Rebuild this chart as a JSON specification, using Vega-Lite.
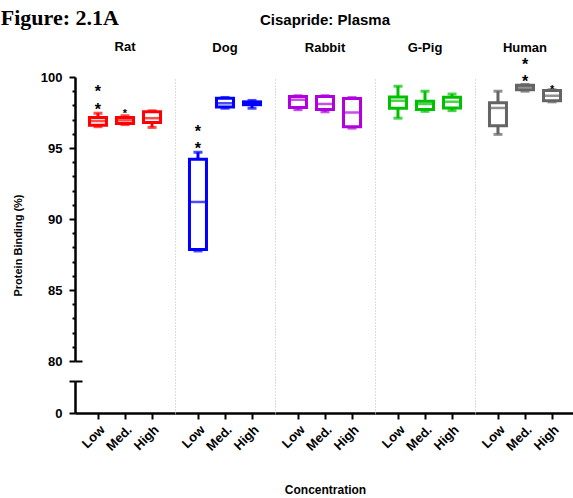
{
  "$schema": "https://vega.github.io/schema/vega-lite/v6.json",
  "background": "white",
  "padding": {"left": 0, "right": 0, "top": 6, "bottom": 0},
  "title": {"text": "Figure: 2.1A", "anchor": "start", "frame": "bounds", "font": "Liberation Serif", "fontSize": 22, "fontWeight": "bold", "color": "black", "dx": -12, "offset": -18},
  "datasets": {
    "boxes": [
      {"species": "Rat", "conc": "Low", "min": 96.5, "q1": 96.6, "median": 96.9, "q3": 97.15, "max": 97.45},
      {"species": "Rat", "conc": "Med.", "min": 96.65, "q1": 96.72, "median": 96.95, "q3": 97.15, "max": 97.27},
      {"species": "Rat", "conc": "High", "min": 96.45, "q1": 96.8, "median": 97.1, "q3": 97.55, "max": 97.62},
      {"species": "Dog", "conc": "Low", "min": 87.75, "q1": 87.85, "median": 91.2, "q3": 94.2, "max": 94.7},
      {"species": "Dog", "conc": "Med.", "min": 97.8, "q1": 97.88, "median": 98.15, "q3": 98.5, "max": 98.56},
      {"species": "Dog", "conc": "High", "min": 97.8, "q1": 98.05, "median": 98.15, "q3": 98.25, "max": 98.35},
      {"species": "Rabbit", "conc": "Low", "min": 97.7, "q1": 97.85, "median": 98.4, "q3": 98.62, "max": 98.68},
      {"species": "Rabbit", "conc": "Med.", "min": 97.55, "q1": 97.72, "median": 98.1, "q3": 98.62, "max": 98.68},
      {"species": "Rabbit", "conc": "High", "min": 96.4, "q1": 96.5, "median": 97.5, "q3": 98.48, "max": 98.55},
      {"species": "G-Pig", "conc": "Low", "min": 97.1, "q1": 97.8, "median": 98.33, "q3": 98.6, "max": 99.35},
      {"species": "G-Pig", "conc": "Med.", "min": 97.58, "q1": 97.72, "median": 98.1, "q3": 98.3, "max": 99.0},
      {"species": "G-Pig", "conc": "High", "min": 97.63, "q1": 97.82, "median": 98.26, "q3": 98.58, "max": 98.8},
      {"species": "Human", "conc": "Low", "min": 95.96, "q1": 96.56, "median": 97.82, "q3": 98.18, "max": 99.0},
      {"species": "Human", "conc": "Med.", "min": 99.0, "q1": 99.1, "median": 99.3, "q3": 99.42, "max": 99.48},
      {"species": "Human", "conc": "High", "min": 98.25, "q1": 98.32, "median": 98.68, "q3": 99.05, "max": 99.1}
    ],
    "stars2": [
      {"species": "Rat", "conc": "Low", "y": 99.2},
      {"species": "Dog", "conc": "Low", "y": 96.4},
      {"species": "Human", "conc": "Med.", "y": 101.1}
    ],
    "stars1": [
      {"species": "Rat", "conc": "Med.", "y": 97.6},
      {"species": "Human", "conc": "High", "y": 99.27}
    ]
  },
  "spacing": 0,
  "bounds": "flush",
  "hconcat": [
    {
      "width": 100, "height": 336,
      "title": {"text": " ", "subtitle": "Rat", "fontSize": 15, "font": "Liberation Sans", "fontWeight": "bold", "color": "black", "subtitleFont": "Liberation Sans", "subtitleFontSize": 13, "subtitleFontWeight": "bold", "subtitleColor": "black", "subtitlePadding": 14, "offset": 17.5},
      "layer": [
        {"data": {"name": "boxes"}, "transform": [{"filter": "datum.species === 'Rat'"}], "mark": {"type": "rule", "strokeWidth": 3},
         "encoding": {
           "x": {"field": "conc", "type": "nominal", "scale": {"type": "point", "domain": ["Low", "Med.", "High"], "padding": 0.85}, "axis": {"title": null, "labelAngle": -45, "labelFont": "Liberation Sans", "labelFontSize": 13, "labelFontWeight": "bold", "labelColor": "black", "labelPadding": 4, "tickSize": 6, "tickWidth": 2, "tickColor": "black", "domainColor": "black", "domainWidth": 2.5, "grid": false}},
           "y": {"field": "min", "type": "quantitative", "scale": {"domain": [0, 2.25, 80, 100], "range": [336, 304, 284, 0], "nice": false, "zero": false},
                 "axis": {"title": "Protein Binding (%)", "titleFont": "Liberation Sans", "titleFontSize": 11, "titleFontWeight": "bold", "titleColor": "black", "titlePadding": 16.5,
                          "values": [0, 2.25, 80, 81, 82, 83, 84, 85, 86, 87, 88, 89, 90, 91, 92, 93, 94, 95, 96, 97, 98, 99, 100],
                          "tickCount": 60,
                          "format": "d", "labelOverlap": false, "labelFlush": false,
                          "labelExpr": "(datum.value == 0 || (datum.value >= 80 && datum.value % 5 == 0)) ? datum.label : ''",
                          "labelFont": "Liberation Sans", "labelFontSize": 13, "labelFontWeight": "bold", "labelColor": "black", "labelPadding": 7,
                          "tickSize": {"condition": {"test": "datum.value % 5 == 0 || datum.value == 2.25", "value": 6}, "value": 3},
                          "tickWidth": 2, "tickColor": "black",
                          "domainColor": "black", "domainWidth": 2.5, "domainDash": [32, 20, 284],
                          "grid": true, "gridColor": "black", "gridWidth": 2, "gridDash": [7, 2000],
                          "gridOpacity": {"condition": {"test": "datum.value == 80 || datum.value == 2.25", "value": 1}, "value": 0}}},
           "y2": {"field": "max"},
           "color": {"field": "species", "type": "nominal", "scale": {"domain": ["Rat", "Dog", "Rabbit", "G-Pig", "Human"], "range": ["#ff0000", "#0000ff", "#b000e0", "#00c000", "#646464"]}, "legend": null}
         }},
        {"data": {"name": "boxes"}, "transform": [{"filter": "datum.species === 'Rat'"}], "mark": {"type": "bar", "width": 17, "fill": "white", "strokeWidth": 3},
         "encoding": {"x": {"field": "conc", "type": "nominal"}, "y": {"field": "q1", "type": "quantitative"}, "y2": {"field": "q3"},
           "stroke": {"field": "species", "type": "nominal", "scale": {"domain": ["Rat", "Dog", "Rabbit", "G-Pig", "Human"], "range": ["#ff0000", "#0000ff", "#b000e0", "#00c000", "#646464"]}, "legend": null}}},
        {"data": {"name": "boxes"}, "transform": [{"filter": "datum.species === 'Rat'"}], "mark": {"type": "tick", "size": 17, "thickness": 2.5},
         "encoding": {"x": {"field": "conc", "type": "nominal"}, "y": {"field": "median", "type": "quantitative"}, "color": {"field": "species", "type": "nominal", "legend": null}}},
        {"data": {"name": "boxes"}, "transform": [{"filter": "datum.species === 'Rat'"}], "mark": {"type": "tick", "size": 9, "thickness": 3},
         "encoding": {"x": {"field": "conc", "type": "nominal"}, "y": {"field": "min", "type": "quantitative"}, "color": {"field": "species", "type": "nominal", "legend": null}}},
        {"data": {"name": "boxes"}, "transform": [{"filter": "datum.species === 'Rat'"}], "mark": {"type": "tick", "size": 9, "thickness": 3},
         "encoding": {"x": {"field": "conc", "type": "nominal"}, "y": {"field": "max", "type": "quantitative"}, "color": {"field": "species", "type": "nominal", "legend": null}}},
        {"data": {"name": "stars2"}, "transform": [{"filter": "datum.species === 'Rat'"}], "mark": {"type": "text", "text": ["*", "*"], "lineHeight": 17.5, "font": "Liberation Sans", "fontSize": 16, "fontWeight": "bold", "baseline": "alphabetic", "dy": 9, "color": "black"},
         "encoding": {"x": {"field": "conc", "type": "nominal"}, "y": {"field": "y", "type": "quantitative"}}},
        {"data": {"name": "stars1"}, "transform": [{"filter": "datum.species === 'Rat'"}], "mark": {"type": "text", "text": "*", "font": "Liberation Sans", "fontSize": 11, "fontWeight": "bold", "baseline": "alphabetic", "dy": 6, "color": "black"},
         "encoding": {"x": {"field": "conc", "type": "nominal"}, "y": {"field": "y", "type": "quantitative"}}}
      ]
    },
    {
      "width": 100, "height": 336,
      "title": {"text": " ", "subtitle": "Dog", "fontSize": 15, "font": "Liberation Sans", "fontWeight": "bold", "color": "black", "subtitleFont": "Liberation Sans", "subtitleFontSize": 13, "subtitleFontWeight": "bold", "subtitleColor": "black", "subtitlePadding": 14, "offset": 22.5},
      "layer": [
        {"data": {"name": "boxes"}, "transform": [{"filter": "datum.species === 'Dog'"}], "mark": {"type": "rule", "strokeWidth": 3},
         "encoding": {
           "x": {"field": "conc", "type": "nominal", "scale": {"type": "point", "domain": ["Low", "Med.", "High"], "padding": 0.85}, "axis": {"title": null, "labelAngle": -45, "labelFont": "Liberation Sans", "labelFontSize": 13, "labelFontWeight": "bold", "labelColor": "black", "labelPadding": 4, "tickSize": 6, "tickWidth": 2, "tickColor": "black", "domainColor": "black", "domainWidth": 2.5, "grid": false}},
           "y": {"field": "min", "type": "quantitative", "scale": {"domain": [0, 2.25, 80, 100], "range": [336, 304, 284, 0], "nice": false, "zero": false},
                 "axis": {"title": null, "labels": false, "ticks": false, "grid": false, "domainColor": "#bdbdbd", "domainWidth": 1, "domainDash": [1, 2]}},
           "y2": {"field": "max"},
           "color": {"field": "species", "type": "nominal", "scale": {"domain": ["Rat", "Dog", "Rabbit", "G-Pig", "Human"], "range": ["#ff0000", "#0000ff", "#b000e0", "#00c000", "#646464"]}, "legend": null}
         }},
        {"data": {"name": "boxes"}, "transform": [{"filter": "datum.species === 'Dog'"}], "mark": {"type": "bar", "width": 17, "fill": "white", "strokeWidth": 3},
         "encoding": {"x": {"field": "conc", "type": "nominal"}, "y": {"field": "q1", "type": "quantitative"}, "y2": {"field": "q3"},
           "stroke": {"field": "species", "type": "nominal", "scale": {"domain": ["Rat", "Dog", "Rabbit", "G-Pig", "Human"], "range": ["#ff0000", "#0000ff", "#b000e0", "#00c000", "#646464"]}, "legend": null}}},
        {"data": {"name": "boxes"}, "transform": [{"filter": "datum.species === 'Dog'"}], "mark": {"type": "tick", "size": 17, "thickness": 2.5},
         "encoding": {"x": {"field": "conc", "type": "nominal"}, "y": {"field": "median", "type": "quantitative"}, "color": {"field": "species", "type": "nominal", "legend": null}}},
        {"data": {"name": "boxes"}, "transform": [{"filter": "datum.species === 'Dog'"}], "mark": {"type": "tick", "size": 9, "thickness": 3},
         "encoding": {"x": {"field": "conc", "type": "nominal"}, "y": {"field": "min", "type": "quantitative"}, "color": {"field": "species", "type": "nominal", "legend": null}}},
        {"data": {"name": "boxes"}, "transform": [{"filter": "datum.species === 'Dog'"}], "mark": {"type": "tick", "size": 9, "thickness": 3},
         "encoding": {"x": {"field": "conc", "type": "nominal"}, "y": {"field": "max", "type": "quantitative"}, "color": {"field": "species", "type": "nominal", "legend": null}}},
        {"data": {"name": "stars2"}, "transform": [{"filter": "datum.species === 'Dog'"}], "mark": {"type": "text", "text": ["*", "*"], "lineHeight": 17, "font": "Liberation Sans", "fontSize": 16, "fontWeight": "bold", "baseline": "alphabetic", "dy": 9, "color": "black"},
         "encoding": {"x": {"field": "conc", "type": "nominal"}, "y": {"field": "y", "type": "quantitative"}}}
      ]
    },
    {
      "width": 100, "height": 336,
      "title": {"text": "Cisapride: Plasma", "subtitle": "Rabbit", "fontSize": 15, "font": "Liberation Sans", "fontWeight": "bold", "color": "black", "subtitleFont": "Liberation Sans", "subtitleFontSize": 13, "subtitleFontWeight": "bold", "subtitleColor": "black", "subtitlePadding": 14, "offset": 22.5},
      "layer": [
        {"data": {"name": "boxes"}, "transform": [{"filter": "datum.species === 'Rabbit'"}], "mark": {"type": "rule", "strokeWidth": 3},
         "encoding": {
           "x": {"field": "conc", "type": "nominal", "scale": {"type": "point", "domain": ["Low", "Med.", "High"], "padding": 0.85}, "axis": {"title": "Concentration", "titleFont": "Liberation Sans", "titleFontSize": 12, "titleFontWeight": "bold", "titleColor": "black", "titlePadding": 31, "labelAngle": -45, "labelFont": "Liberation Sans", "labelFontSize": 13, "labelFontWeight": "bold", "labelColor": "black", "labelPadding": 4, "tickSize": 6, "tickWidth": 2, "tickColor": "black", "domainColor": "black", "domainWidth": 2.5, "grid": false}},
           "y": {"field": "min", "type": "quantitative", "scale": {"domain": [0, 2.25, 80, 100], "range": [336, 304, 284, 0], "nice": false, "zero": false},
                 "axis": {"title": null, "labels": false, "ticks": false, "grid": false, "domainColor": "#bdbdbd", "domainWidth": 1, "domainDash": [1, 2]}},
           "y2": {"field": "max"},
           "color": {"field": "species", "type": "nominal", "scale": {"domain": ["Rat", "Dog", "Rabbit", "G-Pig", "Human"], "range": ["#ff0000", "#0000ff", "#b000e0", "#00c000", "#646464"]}, "legend": null}
         }},
        {"data": {"name": "boxes"}, "transform": [{"filter": "datum.species === 'Rabbit'"}], "mark": {"type": "bar", "width": 17, "fill": "white", "strokeWidth": 3},
         "encoding": {"x": {"field": "conc", "type": "nominal"}, "y": {"field": "q1", "type": "quantitative"}, "y2": {"field": "q3"},
           "stroke": {"field": "species", "type": "nominal", "scale": {"domain": ["Rat", "Dog", "Rabbit", "G-Pig", "Human"], "range": ["#ff0000", "#0000ff", "#b000e0", "#00c000", "#646464"]}, "legend": null}}},
        {"data": {"name": "boxes"}, "transform": [{"filter": "datum.species === 'Rabbit'"}], "mark": {"type": "tick", "size": 17, "thickness": 2.5},
         "encoding": {"x": {"field": "conc", "type": "nominal"}, "y": {"field": "median", "type": "quantitative"}, "color": {"field": "species", "type": "nominal", "legend": null}}},
        {"data": {"name": "boxes"}, "transform": [{"filter": "datum.species === 'Rabbit'"}], "mark": {"type": "tick", "size": 9, "thickness": 3},
         "encoding": {"x": {"field": "conc", "type": "nominal"}, "y": {"field": "min", "type": "quantitative"}, "color": {"field": "species", "type": "nominal", "legend": null}}},
        {"data": {"name": "boxes"}, "transform": [{"filter": "datum.species === 'Rabbit'"}], "mark": {"type": "tick", "size": 9, "thickness": 3},
         "encoding": {"x": {"field": "conc", "type": "nominal"}, "y": {"field": "max", "type": "quantitative"}, "color": {"field": "species", "type": "nominal", "legend": null}}}
      ]
    },
    {
      "width": 100, "height": 336,
      "title": {"text": " ", "subtitle": "G-Pig", "fontSize": 15, "font": "Liberation Sans", "fontWeight": "bold", "color": "black", "subtitleFont": "Liberation Sans", "subtitleFontSize": 13, "subtitleFontWeight": "bold", "subtitleColor": "black", "subtitlePadding": 14, "offset": 22.5},
      "layer": [
        {"data": {"name": "boxes"}, "transform": [{"filter": "datum.species === 'G-Pig'"}], "mark": {"type": "rule", "strokeWidth": 3},
         "encoding": {
           "x": {"field": "conc", "type": "nominal", "scale": {"type": "point", "domain": ["Low", "Med.", "High"], "padding": 0.85}, "axis": {"title": null, "labelAngle": -45, "labelFont": "Liberation Sans", "labelFontSize": 13, "labelFontWeight": "bold", "labelColor": "black", "labelPadding": 4, "tickSize": 6, "tickWidth": 2, "tickColor": "black", "domainColor": "black", "domainWidth": 2.5, "grid": false}},
           "y": {"field": "min", "type": "quantitative", "scale": {"domain": [0, 2.25, 80, 100], "range": [336, 304, 284, 0], "nice": false, "zero": false},
                 "axis": {"title": null, "labels": false, "ticks": false, "grid": false, "domainColor": "#bdbdbd", "domainWidth": 1, "domainDash": [1, 2]}},
           "y2": {"field": "max"},
           "color": {"field": "species", "type": "nominal", "scale": {"domain": ["Rat", "Dog", "Rabbit", "G-Pig", "Human"], "range": ["#ff0000", "#0000ff", "#b000e0", "#00c000", "#646464"]}, "legend": null}
         }},
        {"data": {"name": "boxes"}, "transform": [{"filter": "datum.species === 'G-Pig'"}], "mark": {"type": "bar", "width": 17, "fill": "white", "strokeWidth": 3},
         "encoding": {"x": {"field": "conc", "type": "nominal"}, "y": {"field": "q1", "type": "quantitative"}, "y2": {"field": "q3"},
           "stroke": {"field": "species", "type": "nominal", "scale": {"domain": ["Rat", "Dog", "Rabbit", "G-Pig", "Human"], "range": ["#ff0000", "#0000ff", "#b000e0", "#00c000", "#646464"]}, "legend": null}}},
        {"data": {"name": "boxes"}, "transform": [{"filter": "datum.species === 'G-Pig'"}], "mark": {"type": "tick", "size": 17, "thickness": 2.5},
         "encoding": {"x": {"field": "conc", "type": "nominal"}, "y": {"field": "median", "type": "quantitative"}, "color": {"field": "species", "type": "nominal", "legend": null}}},
        {"data": {"name": "boxes"}, "transform": [{"filter": "datum.species === 'G-Pig'"}], "mark": {"type": "tick", "size": 9, "thickness": 3},
         "encoding": {"x": {"field": "conc", "type": "nominal"}, "y": {"field": "min", "type": "quantitative"}, "color": {"field": "species", "type": "nominal", "legend": null}}},
        {"data": {"name": "boxes"}, "transform": [{"filter": "datum.species === 'G-Pig'"}], "mark": {"type": "tick", "size": 9, "thickness": 3},
         "encoding": {"x": {"field": "conc", "type": "nominal"}, "y": {"field": "max", "type": "quantitative"}, "color": {"field": "species", "type": "nominal", "legend": null}}}
      ]
    },
    {
      "width": 100, "height": 336,
      "title": {"text": " ", "subtitle": "Human", "fontSize": 15, "font": "Liberation Sans", "fontWeight": "bold", "color": "black", "subtitleFont": "Liberation Sans", "subtitleFontSize": 13, "subtitleFontWeight": "bold", "subtitleColor": "black", "subtitlePadding": 14, "offset": 2.5},
      "layer": [
        {"data": {"name": "boxes"}, "transform": [{"filter": "datum.species === 'Human'"}], "mark": {"type": "rule", "strokeWidth": 3},
         "encoding": {
           "x": {"field": "conc", "type": "nominal", "scale": {"type": "point", "domain": ["Low", "Med.", "High"], "padding": 0.85}, "axis": {"title": null, "labelAngle": -45, "labelFont": "Liberation Sans", "labelFontSize": 13, "labelFontWeight": "bold", "labelColor": "black", "labelPadding": 4, "tickSize": 6, "tickWidth": 2, "tickColor": "black", "domainColor": "black", "domainWidth": 2.5, "grid": false}},
           "y": {"field": "min", "type": "quantitative", "scale": {"domain": [0, 2.25, 80, 100], "range": [336, 304, 284, 0], "nice": false, "zero": false},
                 "axis": {"title": null, "labels": false, "ticks": false, "grid": false, "domainColor": "#bdbdbd", "domainWidth": 1, "domainDash": [1, 2]}},
           "y2": {"field": "max"},
           "color": {"field": "species", "type": "nominal", "scale": {"domain": ["Rat", "Dog", "Rabbit", "G-Pig", "Human"], "range": ["#ff0000", "#0000ff", "#b000e0", "#00c000", "#646464"]}, "legend": null}
         }},
        {"data": {"name": "boxes"}, "transform": [{"filter": "datum.species === 'Human'"}], "mark": {"type": "bar", "width": 17, "fill": "white", "strokeWidth": 3},
         "encoding": {"x": {"field": "conc", "type": "nominal"}, "y": {"field": "q1", "type": "quantitative"}, "y2": {"field": "q3"},
           "stroke": {"field": "species", "type": "nominal", "scale": {"domain": ["Rat", "Dog", "Rabbit", "G-Pig", "Human"], "range": ["#ff0000", "#0000ff", "#b000e0", "#00c000", "#646464"]}, "legend": null}}},
        {"data": {"name": "boxes"}, "transform": [{"filter": "datum.species === 'Human'"}], "mark": {"type": "tick", "size": 17, "thickness": 2.5},
         "encoding": {"x": {"field": "conc", "type": "nominal"}, "y": {"field": "median", "type": "quantitative"}, "color": {"field": "species", "type": "nominal", "legend": null}}},
        {"data": {"name": "boxes"}, "transform": [{"filter": "datum.species === 'Human'"}], "mark": {"type": "tick", "size": 9, "thickness": 3},
         "encoding": {"x": {"field": "conc", "type": "nominal"}, "y": {"field": "min", "type": "quantitative"}, "color": {"field": "species", "type": "nominal", "legend": null}}},
        {"data": {"name": "boxes"}, "transform": [{"filter": "datum.species === 'Human'"}], "mark": {"type": "tick", "size": 9, "thickness": 3},
         "encoding": {"x": {"field": "conc", "type": "nominal"}, "y": {"field": "max", "type": "quantitative"}, "color": {"field": "species", "type": "nominal", "legend": null}}},
        {"data": {"name": "stars2"}, "transform": [{"filter": "datum.species === 'Human'"}], "mark": {"type": "text", "text": ["*", "*"], "lineHeight": 17, "font": "Liberation Sans", "fontSize": 16, "fontWeight": "bold", "baseline": "alphabetic", "dy": 9, "color": "black"},
         "encoding": {"x": {"field": "conc", "type": "nominal"}, "y": {"field": "y", "type": "quantitative"}}},
        {"data": {"name": "stars1"}, "transform": [{"filter": "datum.species === 'Human'"}], "mark": {"type": "text", "text": "*", "font": "Liberation Sans", "fontSize": 11, "fontWeight": "bold", "baseline": "alphabetic", "dy": 6, "color": "black"},
         "encoding": {"x": {"field": "conc", "type": "nominal"}, "y": {"field": "y", "type": "quantitative"}}}
      ]
    }
  ],
  "config": {"view": {"stroke": null}}
}
